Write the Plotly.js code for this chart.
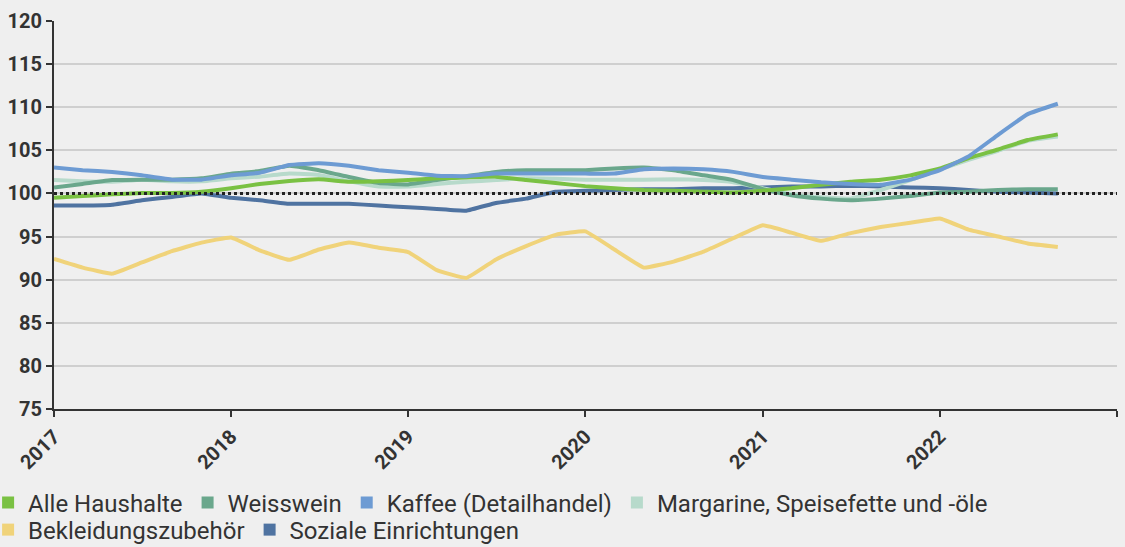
<!DOCTYPE html>
<html>
<head>
<meta charset="utf-8">
<script src="https://cdn.plot.ly/plotly-3.0.1.min.js"></script>
<style>
  html, body { margin: 0; padding: 0; background: #efefef; }
  #chart { width: 1125px; height: 547px; }
</style>
</head>
<body>
<div id="chart"></div>
<script>
const dates = [
  "2017-01-01","2017-03-01","2017-05-01","2017-07-01","2017-09-01","2017-11-01",
  "2018-01-01","2018-03-01","2018-05-01","2018-07-01","2018-09-01","2018-11-01",
  "2019-01-01","2019-03-01","2019-05-01","2019-07-01","2019-09-01","2019-11-01",
  "2020-01-01","2020-03-01","2020-05-01","2020-07-01","2020-09-01","2020-11-01",
  "2021-01-01","2021-03-01","2021-05-01","2021-07-01","2021-09-01","2021-11-01",
  "2022-01-01","2022-03-01","2022-05-01","2022-07-01","2022-09-01"
];

const seriesNames = [
  "Alle Haushalte",
  "Weisswein",
  "Kaffee (Detailhandel)",
  "Margarine, Speisefette und -öle",
  "Bekleidungszubehör",
  "Soziale Einrichtungen"
];

const alleHaushalte = [
  99.5, 99.7, 99.9, 100.05, 100.05, 100.2,
  100.6, 101.1, 101.45, 101.65, 101.35, 101.4,
  101.55, 101.75, 101.85, 101.95, 101.55, 101.2,
  100.85, 100.6, 100.4, 100.3, 100.2, 100.1,
  100.3, 100.6, 101.0, 101.35, 101.6, 102.1,
  102.9, 104.1, 105.1, 106.2, 106.85
];

const weisswein = [
  100.7, 101.1, 101.55, 101.6, 101.6, 101.75,
  102.3, 102.6, 103.2, 102.7, 101.9, 101.2,
  101.05, 101.55, 102.0, 102.5, 102.7, 102.7,
  102.7, 102.9, 103.0, 102.7, 102.1, 101.55,
  100.5, 99.8, 99.4, 99.2, 99.4, 99.7,
  100.1, 100.2, 100.4, 100.5, 100.5
];

const kaffee = [
  103.0, 102.7, 102.5, 102.1, 101.6, 101.6,
  102.1, 102.4, 103.3, 103.5, 103.2, 102.7,
  102.4, 102.05, 102.0, 102.3, 102.3, 102.3,
  102.3, 102.3, 102.8, 102.9, 102.8, 102.5,
  101.9, 101.6, 101.3, 101.1, 101.0, 101.6,
  102.7, 104.3, 106.8, 109.2, 110.4
];

const margarine = [
  101.55, 101.4, 101.35, 101.6, 101.4, 101.4,
  101.75, 101.95, 102.3, 102.15, 101.4, 100.8,
  100.8, 101.1, 101.35, 101.55, 101.75, 101.7,
  101.6, 101.6, 101.6, 101.65, 101.55, 101.3,
  100.6, 99.9, 99.55, 99.4, 100.4, 101.55,
  102.8, 103.9, 104.95, 106.1, 106.6
];

const bekleidung = [
  92.4, 91.4, 90.7, 92.0, 93.3, 94.3,
  94.9, 93.4, 92.3, 93.5, 94.3, 93.7,
  93.2, 91.1, 90.2, 92.35, 93.9, 95.2,
  95.6, 93.5, 91.4, 92.1, 93.25, 94.8,
  96.3, 95.45, 94.5, 95.4, 96.1, 96.6,
  97.1, 95.8, 95.0, 94.2, 93.8
];

const sozialeEinrichtungen = [
  98.6, 98.6, 98.7, 99.2, 99.6, 100.0,
  99.5, 99.2, 98.8, 98.8, 98.8, 98.6,
  98.4, 98.2, 98.0, 98.9, 99.4, 100.2,
  100.3, 100.4, 100.5, 100.5, 100.6, 100.6,
  100.7, 100.8, 100.8, 100.9, 100.8, 100.7,
  100.6, 100.4, 100.2, 100.1, 100.0
];

const yTicks = [75, 80, 85, 90, 95, 100, 105, 110, 115, 120];
const xTickLabels = ["2017","2018","2019","2020","2021","2022","2023"];
const referenceLevel = 100;

const colors = ["#7ac143", "#6aa78c", "#6d9bd3", "#b7dacb", "#f0d37a", "#4f73a1"];
const values = [alleHaushalte, weisswein, kaffee, margarine, bekleidung, sozialeEinrichtungen];

const traces = [];
const drawOrder = [4, 5, 3, 1, 0, 2];
drawOrder.forEach(i => {
  traces.push({
    type: "scatter", mode: "lines",
    x: dates, y: values[i], name: seriesNames[i],
    line: { color: colors[i], width: 4, shape: "spline", smoothing: 0.3 },
    showlegend: false, hoverinfo: "x+y+name"
  });
});
// legend swatches: first four in legend row 1, last two in legend row 2
seriesNames.forEach((n, i) => {
  traces.push({
    type: "bar", x: [null], y: [null], name: n,
    marker: { color: colors[i] }, showlegend: true, hoverinfo: "skip",
    legend: i < 4 ? "legend" : "legend2"
  });
});

const tickFont = { size: 20, color: "#333", family: "Roboto, sans-serif", weight: "bold" };
const legendFont = { size: 24, color: "#333", family: "Roboto, sans-serif" };

const layout = {
  width: 1125, height: 547,
  paper_bgcolor: "#efefef", plot_bgcolor: "#efefef",
  margin: { l: 54, r: 8, t: 21, b: 138, autoexpand: false },
  font: { family: "Roboto, sans-serif", color: "#333" },
  xaxis: {
    type: "date",
    range: ["2017-01-01", "2023-01-01"],
    tickmode: "array",
    tickvals: xTickLabels.map(y => y + "-01-01"),
    ticktext: xTickLabels,
    tickangle: -45,
    showgrid: false, zeroline: false,
    showline: true, linecolor: "#333", linewidth: 2,
    ticks: "outside", ticklen: 6, tickwidth: 2, tickcolor: "#333",
    tickfont: tickFont, automargin: false
  },
  yaxis: {
    range: [75, 120],
    tickmode: "array", tickvals: yTicks,
    showgrid: true, gridcolor: "#cfcfcf", gridwidth: 2,
    zeroline: false,
    showline: true, linecolor: "#333", linewidth: 2,
    ticks: "outside", ticklen: 6, tickwidth: 2, tickcolor: "#333",
    tickfont: tickFont, automargin: false
  },
  shapes: [{
    type: "line", xref: "paper", yref: "y",
    x0: 0, x1: 1, y0: referenceLevel, y1: referenceLevel,
    line: { color: "#222", width: 3, dash: "dot" }
  }],
  legend: {
    orientation: "h", x: -0.062, xanchor: "left", y: -0.2423, yanchor: "middle",
    font: legendFont, bgcolor: "rgba(0,0,0,0)", traceorder: "normal"
  },
  legend2: {
    orientation: "h", x: -0.062, xanchor: "left", y: -0.3119, yanchor: "middle",
    font: legendFont, bgcolor: "rgba(0,0,0,0)", traceorder: "normal"
  },
  showlegend: true
};

Plotly.newPlot("chart", traces, layout, { displayModeBar: false, staticPlot: true });
</script>
</body>
</html>
